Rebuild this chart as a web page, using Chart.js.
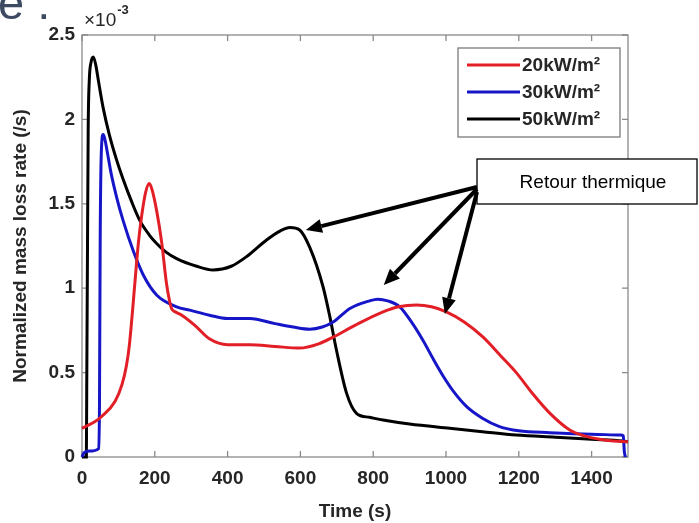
<!DOCTYPE html>
<html>
<head>
<meta charset="utf-8">
<script src="https://cdn.jsdelivr.net/npm/chart.js@4/dist/chart.umd.min.js"></script>
<style>
  html, body { margin: 0; padding: 0; background: #ffffff; }
  canvas { display: block; }
</style>
</head>
<body>
<canvas id="c" width="699" height="523" style="width:699px;height:523px"></canvas>
<script>
// ---- Data (rate values in units of 1e-3 /s) ----
const seriesLabels = ['20kW/m\u00B2', '30kW/m\u00B2', '50kW/m\u00B2'];

const time20 = [0, 36, 54, 91, 110, 122, 130, 139, 146, 155, 164, 175, 185, 193, 205, 219, 232, 240, 246, 256, 274, 310, 350, 400, 461, 530, 598, 650, 690, 750, 827, 870, 919, 960, 1001, 1050, 1102, 1150, 1193, 1240, 1285, 1340, 1380, 1422, 1460, 1500];
const rate20 = [0.17, 0.21, 0.24, 0.33, 0.43, 0.54, 0.66, 0.87, 1.05, 1.27, 1.43, 1.57, 1.62, 1.58, 1.46, 1.27, 1.03, 0.93, 0.88, 0.86, 0.84, 0.78, 0.70, 0.665, 0.665, 0.655, 0.645, 0.67, 0.71, 0.78, 0.86, 0.89, 0.90, 0.89, 0.86, 0.80, 0.71, 0.60, 0.50, 0.37, 0.26, 0.16, 0.125, 0.105, 0.095, 0.09];

const time30 = [0, 4, 20, 46, 48, 50, 53, 58, 62, 70, 80, 95, 113, 141, 168, 205, 260, 296, 350, 400, 461, 530, 580, 626, 660, 690, 736, 790, 812, 840, 873, 905, 937, 965, 992, 1020, 1056, 1100, 1147, 1200, 1285, 1400, 1480, 1487, 1490, 1493];
const rate30 = [0, 0.02, 0.035, 0.05, 0.3, 1.3, 1.8, 1.91, 1.89, 1.80, 1.68, 1.54, 1.40, 1.22, 1.08, 0.96, 0.89, 0.87, 0.84, 0.82, 0.82, 0.79, 0.77, 0.757, 0.77, 0.80, 0.88, 0.925, 0.935, 0.925, 0.89, 0.80, 0.69, 0.58, 0.48, 0.39, 0.30, 0.23, 0.18, 0.155, 0.144, 0.135, 0.13, 0.125, 0.03, 0.0];

const time50 = [0, 12, 13, 15, 17, 20, 25, 31, 38, 45, 58, 75, 95, 113, 135, 159, 185, 205, 230, 260, 315, 360, 410, 452, 507, 545, 571, 598, 626, 662, 681, 699, 727, 754, 790, 827, 900, 1010, 1100, 1193, 1300, 1400, 1486, 1500];
const rate50 = [0, 0, 0.4, 1.2, 1.94, 2.23, 2.34, 2.37, 2.32, 2.23, 2.07, 1.91, 1.76, 1.645, 1.52, 1.40, 1.315, 1.265, 1.215, 1.175, 1.13, 1.108, 1.13, 1.187, 1.286, 1.34, 1.36, 1.345, 1.24, 1.01, 0.83, 0.634, 0.377, 0.259, 0.235, 0.219, 0.195, 0.170, 0.150, 0.130, 0.117, 0.105, 0.095, 0.09];

const xTicks = [0, 200, 400, 600, 800, 1000, 1200, 1400];
const xTickLabels = ['0', '200', '400', '600', '800', '1000', '1200', '1400'];
const yTicks = [0, 0.5, 1, 1.5, 2, 2.5];
const yTickLabels = ['0', '0.5', '1', '1.5', '2', '2.5'];

const xTitle = 'Time (s)';
const yTitle = 'Normalized mass loss rate (/s)';
const annotationText = 'Retour thermique';
// arrow targets (data coordinates: time, rate x1e-3)
const arrowTargetT = [615, 829, 997];
const arrowTargetR = [1.345, 1.019, 0.847];

// ---- Styles ----
const colors = ['#e21f26', '#1616c8', '#000000'];
const FONT = '"Liberation Sans", Arial, sans-serif';
const axisColor = '#8a8a8a';
const textColor = '#262626';

function pts(t, r) { return t.map((v, i) => ({ x: v, y: r[i] })); }

const datasets = [
  { label: seriesLabels[0], data: pts(time20, rate20) },
  { label: seriesLabels[1], data: pts(time30, rate30) },
  { label: seriesLabels[2], data: pts(time50, rate50) }
].map((d, i) => Object.assign(d, {
  borderColor: colors[i], backgroundColor: colors[i], borderWidth: 3,
  pointRadius: 0, cubicInterpolationMode: 'monotone', fill: false, clip: 6
}));

function drawArrow(ctx, x0, y0, x1, y1) {
  const ang = Math.atan2(y1 - y0, x1 - x0);
  const hl = 16, hw = 7;
  const bx = x1 - hl * Math.cos(ang), by = y1 - hl * Math.sin(ang);
  ctx.beginPath();
  ctx.moveTo(x0, y0); ctx.lineTo(bx, by); ctx.stroke();
  ctx.beginPath();
  ctx.moveTo(x1, y1);
  ctx.lineTo(bx + hw * Math.sin(ang), by - hw * Math.cos(ang));
  ctx.lineTo(bx - hw * Math.sin(ang), by + hw * Math.cos(ang));
  ctx.closePath(); ctx.fill();
}

const decor = {
  id: 'decor',
  beforeDatasetsDraw(chart) {
    const { ctx, chartArea: a, scales: { x, y } } = chart;
    ctx.save();
    ctx.strokeStyle = axisColor; ctx.lineWidth = 1.3;
    ctx.strokeRect(a.left, a.top, a.right - a.left, a.bottom - a.top);
    const tl = 6;
    ctx.beginPath();
    x.ticks.forEach(t => {
      const px = x.getPixelForValue(t.value);
      ctx.moveTo(px, a.bottom); ctx.lineTo(px, a.bottom - tl);
      ctx.moveTo(px, a.top); ctx.lineTo(px, a.top + tl);
    });
    y.ticks.forEach(t => {
      const py = y.getPixelForValue(t.value);
      ctx.moveTo(a.left, py); ctx.lineTo(a.left + tl, py);
      ctx.moveTo(a.right, py); ctx.lineTo(a.right - tl, py);
    });
    ctx.stroke();
    ctx.restore();
  },
  afterDraw(chart) {
    const { ctx, chartArea: a, scales: { x, y } } = chart;
    ctx.save();
    // slide title fragment
    ctx.fillStyle = '#3e4a62';
    ctx.font = '47px ' + FONT;
    ctx.textBaseline = 'alphabetic'; ctx.textAlign = 'left';
    ctx.fillText('e :', -2, 19);

    // exponent label
    ctx.fillStyle = textColor;
    ctx.font = '19px ' + FONT;
    ctx.fillText('\u00D710', a.left + 2, a.top - 9);
    const w = ctx.measureText('\u00D710').width;
    ctx.font = 'bold 13px ' + FONT;
    ctx.fillText('-3', a.left + 2 + w + 1, a.top - 21);

    // legend
    const lx = 458, ly = 48, lw = 162, lh = 89;
    ctx.fillStyle = '#ffffff';
    ctx.fillRect(lx, ly, lw, lh);
    ctx.strokeStyle = '#7a7a7a'; ctx.lineWidth = 1.3;
    ctx.strokeRect(lx, ly, lw, lh);
    chart.data.datasets.forEach((d, i) => {
      const yy = ly + 17 + i * 27;
      ctx.strokeStyle = d.borderColor; ctx.lineWidth = 3;
      ctx.beginPath(); ctx.moveTo(lx + 9, yy); ctx.lineTo(lx + 62, yy); ctx.stroke();
      ctx.fillStyle = textColor;
      ctx.font = 'bold 19px ' + FONT;
      ctx.textBaseline = 'middle';
      ctx.fillText(d.label, lx + 64, yy + 1);
    });

    // annotation box
    const bx = 477, by = 159, bw = 220, bh = 45;
    ctx.fillStyle = '#ffffff';
    ctx.fillRect(bx, by, bw, bh);
    ctx.strokeStyle = '#000000'; ctx.lineWidth = 1.3;
    ctx.strokeRect(bx, by, bw, bh);
    ctx.fillStyle = '#000000';
    ctx.font = '19px ' + FONT;
    ctx.textAlign = 'center'; ctx.textBaseline = 'middle';
    ctx.fillText(annotationText, bx + 116, by + bh / 2 + 1);

    // arrows
    ctx.strokeStyle = '#000000'; ctx.fillStyle = '#000000'; ctx.lineWidth = 4;
    const starts = [[477, 187], [477, 189], [477, 192]];
    arrowTargetT.forEach((t, i) => {
      drawArrow(ctx, starts[i][0], starts[i][1], x.getPixelForValue(t), y.getPixelForValue(arrowTargetR[i]));
    });
    ctx.restore();
  }
};

new Chart(document.getElementById('c'), {
  type: 'line',
  data: { datasets },
  plugins: [decor],
  options: {
    responsive: false,
    animation: false,
    layout: { padding: { top: 35, right: 71, left: 0, bottom: 0 } },
    plugins: { legend: { display: false }, tooltip: { enabled: false } },
    scales: {
      x: {
        type: 'linear', min: 0, max: 1500,
        afterBuildTicks: s => { s.ticks = xTicks.map(v => ({ value: v })); },
        afterFit: s => { s.height = 66; },
        grid: { display: false, drawTicks: false },
        border: { display: false },
        ticks: {
          padding: 10, color: textColor, maxRotation: 0, autoSkip: false,
          font: { family: FONT, size: 19, weight: 'bold' },
          callback: (v) => { const i = xTicks.indexOf(v); return i >= 0 ? xTickLabels[i] : ''; }
        },
        title: {
          display: true, text: xTitle, color: textColor,
          font: { family: FONT, size: 19, weight: 'bold' },
          padding: { top: 6, bottom: 0 }
        }
      },
      y: {
        type: 'linear', min: 0, max: 2.5,
        afterBuildTicks: s => { s.ticks = yTicks.map(v => ({ value: v })); },
        afterFit: s => { s.width = 82; },
        grid: { display: false, drawTicks: false },
        border: { display: false },
        ticks: {
          padding: 7, color: textColor, autoSkip: false,
          font: { family: FONT, size: 19, weight: 'bold' },
          callback: (v) => { const i = yTicks.indexOf(v); return i >= 0 ? yTickLabels[i] : ''; }
        },
        title: {
          display: true, text: yTitle, color: textColor,
          font: { family: FONT, size: 19, weight: 'bold' },
          padding: { top: 9, bottom: 0 }
        }
      }
    }
  }
});
</script>
</body>
</html>
